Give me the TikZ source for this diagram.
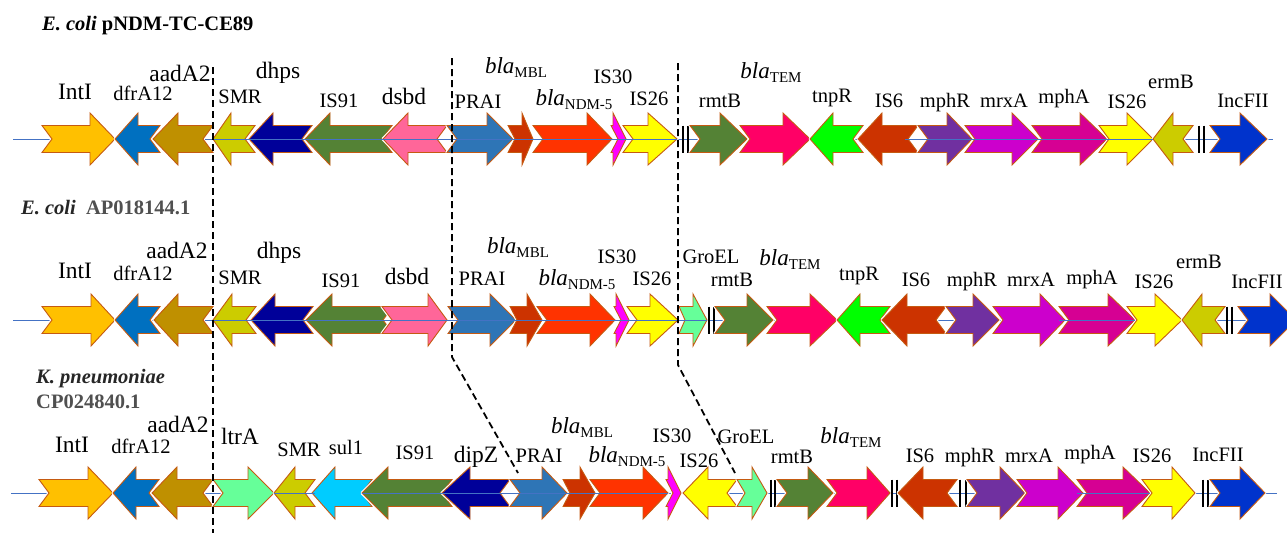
\documentclass[tikz,border=0pt]{standalone}
\usepackage{fontspec}
\setmainfont{Liberation Serif}
\definecolor{edgebrown}{HTML}{C55A11}
\definecolor{axisblue}{HTML}{4472C4}
\definecolor{cIntI}{HTML}{FFC000}
\definecolor{cdfr}{HTML}{0070C0}
\definecolor{caad}{HTML}{BF9000}
\definecolor{cSMR}{HTML}{CCCC00}
\definecolor{cnavy}{HTML}{000099}
\definecolor{cgreen}{HTML}{548235}
\definecolor{cpink}{HTML}{FF6699}
\definecolor{cPRAI}{HTML}{2E75B6}
\definecolor{cMBL}{HTML}{CC3300}
\definecolor{cNDM}{HTML}{FF3300}
\definecolor{cIS30}{HTML}{FF00FF}
\definecolor{cIS26}{HTML}{FFFF00}
\definecolor{cTEM}{HTML}{FF0066}
\definecolor{ctnpR}{HTML}{00FF00}
\definecolor{cmphR}{HTML}{7030A0}
\definecolor{cmrxA}{HTML}{CC00CC}
\definecolor{cmphA}{HTML}{D60093}
\definecolor{cInc}{HTML}{0033CC}
\definecolor{cGro}{HTML}{66FF99}
\definecolor{csul}{HTML}{00CCFF}
\definecolor{titledark}{HTML}{262626}
\definecolor{titlegrey}{HTML}{505050}

% gene arrow: [notch depth]{tail x}{head base x}{tip x}{axis y}{fill colour}
\newcommand\genearrow[6][10]{%
  \pgfmathsetmacro\gsign{(#4>#2)?1:-1}%
  \pgfmathsetmacro\gnotch{#2+\gsign*#1}%
  \path[gene, fill=#6] (#2,#5-13.5) -- (#3,#5-13.5) -- (#3,#5-26) -- (#4,#5)
    -- (#3,#5+26) -- (#3,#5+13.5) -- (#2,#5+13.5) -- (\gnotch,#5) -- cycle;
}
% double break mark on the backbone
\newcommand\breakmark[3]{%
  \draw[brk] (#1,#3-13.5) -- (#1,#3+13.5);
  \draw[brk] (#2,#3-13.5) -- (#2,#3+13.5);
}
\newcommand\blab[1]{\textit{bla}\raisebox{-4.5pt}{\fontsize{15}{15}\selectfont #1}}

\begin{document}
\begin{tikzpicture}[x=1pt, y=-1pt,
  lab/.style={inner sep=0pt, anchor=base, font=\fontsize{20.5}{20.5}\selectfont},
  labbig/.style={lab, font=\fontsize{23.5}{23.5}\selectfont},
  blalab/.style={lab, font=\fontsize{23}{23}\selectfont},
  gene/.style={draw=edgebrown, line width=0.9pt, line join=miter,
    preaction={draw=white, line width=3.2pt, line join=round}},
  axis/.style={draw=axisblue, line width=1pt},
  brk/.style={draw=black, line width=1.8pt},
  guide/.style={draw=black, line width=1.8pt, dash pattern=on 7pt off 4pt},
  title/.style={inner sep=0pt, anchor=base west, font=\fontsize{20.5}{20.5}\selectfont\bfseries},
]
\useasboundingbox[fill=white] (0,0) rectangle (1287,533);

%% ---------------- row 1: E. coli pNDM-TC-CE89 ----------------
\node[title] (t1) at (42,30) {\textit{E. coli} pNDM-TC-CE89};
\draw[axis] (13,139) -- (1273,139);
\genearrow{42}{90}{115}{139}{cIntI}
\genearrow{160}{138}{115}{139}{cdfr}
\genearrow{213}{178}{153}{139}{caad}
\genearrow{255}{231}{213}{139}{cSMR}
\genearrow{312}{273}{249}{139}{cnavy}
\genearrow{392}{330}{305}{139}{cgreen}
\genearrow{447}{408}{383}{139}{cpink}
\genearrow{447}{487}{513}{139}{cPRAI}
\genearrow[7]{508}{522}{533}{139}{cMBL}
\genearrow{533}{587}{612}{139}{cNDM}
\genearrow[7]{611}{613}{626}{139}{cIS30}
\genearrow{623}{648}{677}{139}{cIS26}
\breakmark{683}{688}{139}
\genearrow{690}{720}{747}{139}{cgreen}
\genearrow{740}{783}{810}{139}{cTEM}
\genearrow{863}{833}{810}{139}{ctnpR}
\genearrow{918}{882}{858}{139}{cMBL}
\genearrow{918}{947}{972}{139}{cmphR}
\genearrow{965}{1012}{1038}{139}{cmrxA}
\genearrow{1032}{1080}{1107}{139}{cmphA}
\genearrow{1099}{1127}{1153}{139}{cIS26}
\genearrow{1193}{1173}{1153}{139}{cSMR}
\breakmark{1199}{1204}{139}
\genearrow{1210}{1240}{1267}{139}{cInc}
\draw[axis] (205,139) -- (677,139);
\draw[axis] (905,139) -- (1153,139);

\node[labbig] (a1) at (75,99) {IntI};
\node[lab] (a2) at (143,100) {dfrA12};
\node[labbig] (a3) at (180,81) {aadA2};
\node[lab] (a4) at (240,103) {SMR};
\node[labbig] (a5) at (278,78) {dhps};
\node[lab] (a6) at (339,107) {IS91};
\node[labbig] (a7) at (404,104) {dsbd};
\node[lab] (a8) at (478,108) {PRAI};
\node[blalab] (a9) at (516,73) {\blab{MBL}};
\node[blalab] (a10) at (574,105) {\blab{NDM-5}};
\node[lab] (a11) at (613,83) {IS30};
\node[lab] (a12) at (649,105) {IS26};
\node[lab] (a13) at (720,107) {rmtB};
\node[blalab] (a14) at (771,78) {\blab{TEM}};
\node[lab] (a15) at (832,102) {tnpR};
\node[lab] (a16) at (889,107) {IS6};
\node[lab] (a17) at (945,107) {mphR};
\node[lab] (a18) at (1004,107) {mrxA};
\node[lab] (a19) at (1064,103) {mphA};
\node[lab] (a20) at (1127,108) {IS26};
\node[lab] (a21) at (1171,88) {ermB};
\node[lab] (a22) at (1243,107) {IncFII};

%% ---------------- row 2: E. coli AP018144.1 ----------------
\node[title, text=titledark] (t2) at (21,214) {\textit{E. coli}\ \ \textcolor{titlegrey}{AP018144.1}};
\draw[axis] (13,320) -- (1287,320);
\genearrow{42}{91}{115}{320}{cIntI}
\genearrow{160}{138}{115}{320}{cdfr}
\genearrow{213}{178}{154}{320}{caad}
\genearrow{256}{232}{213}{320}{cSMR}
\genearrow{313}{275}{251}{320}{cnavy}
\genearrow{393}{332}{306}{320}{cgreen}
\genearrow{382}{428}{447}{320}{cpink}
\genearrow{448}{490}{516}{320}{cPRAI}
\genearrow[7]{510}{527}{542}{320}{cMBL}
\genearrow{537}{590}{615}{320}{cNDM}
\genearrow[7]{614}{616}{629}{320}{cIS30}
\genearrow{627}{650}{678}{320}{cIS26}
\genearrow[6]{679}{693}{707}{320}{cGro}
\breakmark{709}{714}{320}
\genearrow{715}{747}{773}{320}{cgreen}
\genearrow{767}{810}{837}{320}{cTEM}
\genearrow{890}{860}{837}{320}{ctnpR}
\genearrow{946}{907}{882}{320}{cMBL}
\genearrow{946}{973}{999}{320}{cmphR}
\genearrow{993}{1040}{1065}{320}{cmrxA}
\genearrow{1059}{1108}{1135}{320}{cmphA}
\genearrow{1127}{1155}{1182}{320}{cIS26}
\genearrow{1225}{1202}{1182}{320}{cSMR}
\breakmark{1227}{1232}{320}
\genearrow{1238}{1270}{1296}{320}{cInc}
\draw[axis] (205,320) -- (680,320);
\draw[axis] (679,320) -- (707,320);
\draw[axis] (1059,320) -- (1135,320);

\node[labbig] (b1) at (75,278) {IntI};
\node[lab] (b2) at (143,280) {dfrA12};
\node[labbig] (b3) at (177,258) {aadA2};
\node[lab] (b4) at (240,284) {SMR};
\node[labbig] (b5) at (279,258) {dhps};
\node[lab] (b6) at (341,287) {IS91};
\node[labbig] (b7) at (407,284) {dsbd};
\node[lab] (b8) at (482,285) {PRAI};
\node[blalab] (b9) at (518,253) {\blab{MBL}};
\node[blalab] (b10) at (577,285) {\blab{NDM-5}};
\node[lab] (b11) at (617,263) {IS30};
\node[lab] (b12) at (652,285) {IS26};
\node[lab] (b13) at (711,263) {GroEL};
\node[lab] (b14) at (732,286) {rmtB};
\node[blalab] (b15) at (790,265) {\blab{TEM}};
\node[lab] (b16) at (859,280) {tnpR};
\node[lab] (b17) at (916,286) {IS6};
\node[lab] (b18) at (972,286) {mphR};
\node[lab] (b19) at (1031,286) {mrxA};
\node[lab] (b20) at (1092,284) {mphA};
\node[lab] (b21) at (1154,288) {IS26};
\node[lab] (b22) at (1199,268) {ermB};
\node[lab] (b23) at (1257,288) {IncFII};

%% ---------------- row 3: K. pneumoniae CP024840.1 ----------------
\node[title, text=titledark] (t3a) at (36,383) {\textit{K. pneumoniae}};
\node[title, text=titlegrey] (t3b) at (36,408) {CP024840.1};
\draw[axis] (11,493) -- (1277,493);
\genearrow{39}{88}{113}{493}{cIntI}
\genearrow{159}{136}{113}{493}{cdfr}
\genearrow{213}{177}{152}{493}{caad}
\genearrow{213}{248}{274}{493}{cGro}
\genearrow{315}{295}{274}{493}{cSMR}
\genearrow{372}{335}{312}{493}{csul}
\genearrow{452}{388}{362}{493}{cgreen}
\genearrow{510}{470}{442}{493}{cnavy}
\genearrow{510}{542}{567}{493}{cPRAI}
\genearrow[7]{563}{580}{595}{493}{cMBL}
\genearrow{590}{643}{668}{493}{cNDM}
\genearrow[7]{666}{668}{681}{493}{cIS30}
\genearrow{737}{708}{683}{493}{cIS26}
\genearrow[8]{737}{752}{767}{493}{cGro}
\breakmark{771}{775}{493}
\genearrow{777}{808}{833}{493}{cgreen}
\genearrow{827}{867}{890}{493}{cTEM}
\breakmark{892}{897}{493}
\genearrow{957}{923}{898}{493}{cMBL}
\breakmark{960}{966}{493}
\genearrow{967}{1000}{1025}{493}{cmphR}
\genearrow{1017}{1058}{1083}{493}{cmrxA}
\genearrow{1077}{1123}{1150}{493}{cmphA}
\genearrow{1142}{1172}{1195}{493}{cIS26}
\breakmark{1203}{1208}{493}
\genearrow{1210}{1240}{1265}{493}{cInc}
\draw[axis] (274,493) -- (315,493);
\draw[axis] (362,493) -- (668,493);
\draw[axis] (1077,493) -- (1150,493);

\node[labbig] (c1) at (72,452) {IntI};
\node[lab] (c2) at (141,453) {dfrA12};
\node[labbig] (c3) at (178,432) {aadA2};
\node[labbig] (c4) at (240,444) {ltrA};
\node[lab] (c5) at (299,456) {SMR};
\node[lab] (c6) at (346,454) {sul1};
\node[lab] (c7) at (415,459) {IS91};
\node[labbig] (c8) at (476,462) {dipZ};
\node[lab] (c9) at (539,462) {PRAI};
\node[blalab] (c10) at (582,433) {\blab{MBL}};
\node[blalab] (c11) at (627,462) {\blab{NDM-5}};
\node[lab] (c12) at (672,442) {IS30};
\node[lab] (c13) at (699,467) {IS26};
\node[lab] (c14) at (746,443) {GroEL};
\node[lab] (c15) at (792,463) {rmtB};
\node[blalab] (c16) at (851,443) {\blab{TEM}};
\node[lab] (c17) at (920,462) {IS6};
\node[lab] (c18) at (970,462) {mphR};
\node[lab] (c19) at (1029,462) {mrxA};
\node[lab] (c20) at (1090,459) {mphA};
\node[lab] (c21) at (1152,462) {IS26};
\node[lab] (c22) at (1218,461) {IncFII};

%% ---------------- dashed guides linking the shared region ----------------
\coordinate (g1top) at (213,67);
\coordinate (g1bot) at (213,533);
\coordinate (g2top) at (452,58);
\coordinate (g2bend) at (452,357);
\coordinate (g2end) at (518,473);
\coordinate (g3top) at (678,63);
\coordinate (g3bend) at (678,365);
\coordinate (g3end) at (735,473);
\draw[guide] (g1top) -- (g1bot);
\draw[guide] (g2top) -- (g2bend) -- (g2end);
\draw[guide] (g3top) -- (g3bend) -- (g3end);
\end{tikzpicture}
\end{document}
